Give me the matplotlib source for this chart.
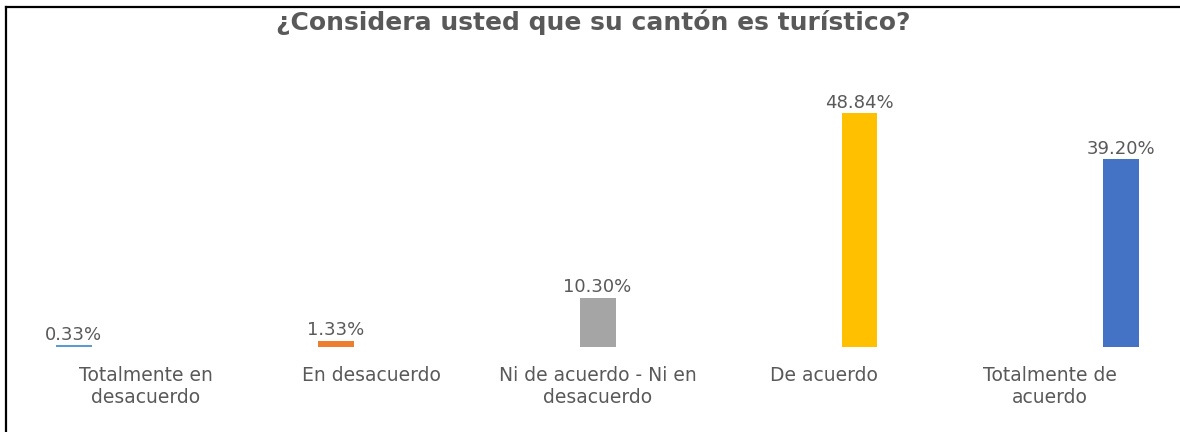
import matplotlib
matplotlib.use("Agg")
import matplotlib.pyplot as plt
from matplotlib.lines import Line2D

# Survey answers and their share of respondents (%)
categories = [
    "Totalmente en\ndesacuerdo",
    "En desacuerdo",
    "Ni de acuerdo - Ni en\ndesacuerdo",
    "De acuerdo",
    "Totalmente de\nacuerdo",
]
percentages = [0.33, 1.33, 10.30, 48.84, 39.20]
bar_colors = ["#5B9BD5", "#ED7D31", "#A5A5A5", "#FFC000", "#4472C4"]

TEXT = "#595959"

fig = plt.figure(figsize=(11.8, 4.32), dpi=100)
ax = fig.add_axes([0.0, 85 / 432, 1.0, 287 / 432])

x = list(range(len(categories)))
bars = ax.bar(x, percentages, width=0.137, color=bar_colors)
ax.bar_label(bars, labels=[f"{v:.2f}%" for v in percentages],
             padding=1, fontsize=13, color=TEXT)

# category labels sit on a slightly narrower spacing than the bars
ax.set_xticks([2 + 0.863 * (i - 2) for i in x])
ax.set_xticklabels(categories, fontsize=13.5, color=TEXT, linespacing=1.2)
ax.tick_params(axis="x", length=0, pad=14)
ax.set_yticks([])
ax.set_xlim(-0.282, 4.224)
ax.set_ylim(0, 60)
for side in ax.spines.values():
    side.set_visible(False)

fig.text(0.503, 1 - 22 / 432, "¿Considera usted que su cantón es turístico?",
         ha="center", va="center", fontsize=18, fontweight="bold", color=TEXT)

# frame lines along the top and left edge
fig.add_artist(Line2D([6 / 1180, 1.0], [1 - 7 / 432, 1 - 7 / 432],
                      color="black", lw=1.6, transform=fig.transFigure))
fig.add_artist(Line2D([6 / 1180, 6 / 1180], [0.0, 1 - 7 / 432],
                      color="black", lw=1.6, transform=fig.transFigure))

fig.savefig("out.png", dpi=100)
